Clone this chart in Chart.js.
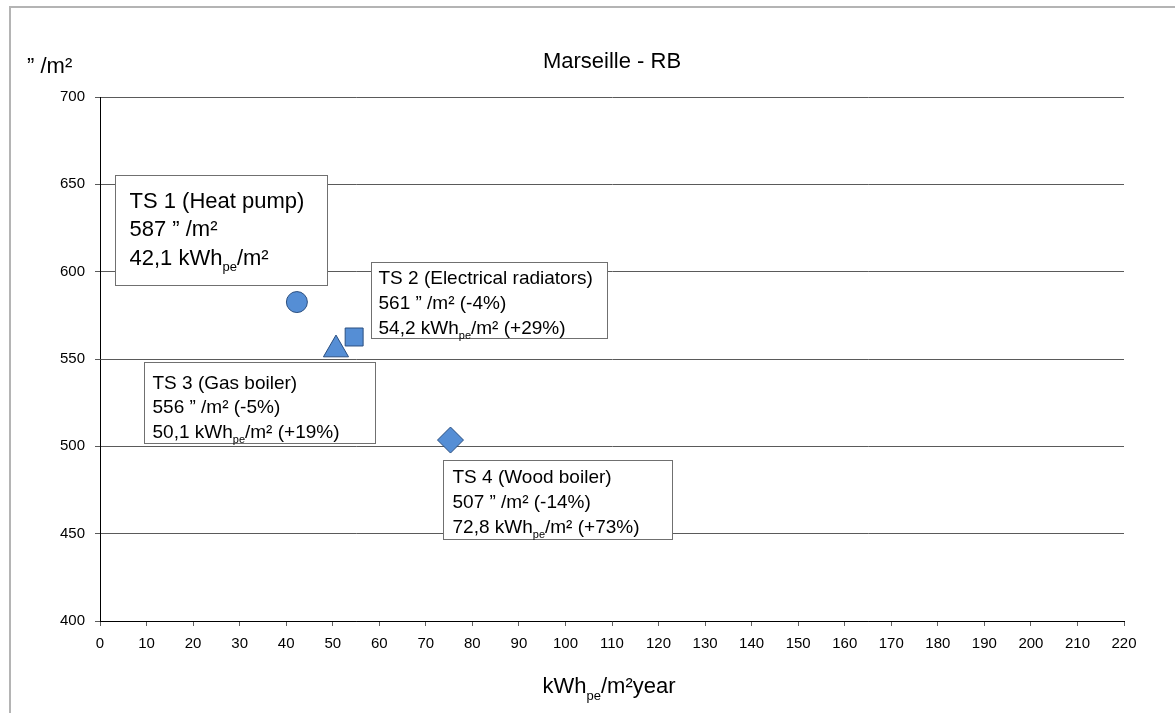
<!DOCTYPE html>
<html>
<head>
<meta charset="utf-8">
<script src="https://cdn.jsdelivr.net/npm/chart.js"></script>
<style>
  body { margin: 0; background: #fff; }
  #wrap { width: 1175px; height: 713px; }
</style>
</head>
<body>
<div id="wrap"><canvas id="myChart" width="1175" height="713"></canvas></div>
<script>
// values
const systemNames = ["TS 1 (Heat pump)", "TS 2 (Electrical radiators)", "TS 3 (Gas boiler)", "TS 4 (Wood boiler)"];
const energyValues = [42.3, 54.6, 50.7, 75.3];
const costValues = [582.6, 562.6, 555.4, 503.6];
const costLabels = ["587", "561", "556", "507"];
const costChange = ["", "-4%", "-5%", "-14%"];
const energyLabels = ["42,1", "54,2", "50,1", "72,8"];
const energyChange = ["", "+29%", "+19%", "+73%"];
const pointShapes = ["circle", "rect", "triangle", "rectRot"];
const pointSizes = [10.5, 12.7, 14.5, 13];

const xMin = 0, xMax = 220, xStep = 10;
const yMin = 400, yMax = 700, yStep = 50;

const chartTitle = "Marseille - RB";
const FONT = "'Liberation Sans', Arial, sans-serif";

// where the label boxes sit (left/top in data units, size in px)
const boxes = [
    {x: 3.2, y: 655.3, w: 212, h: 110, size: 22, pad: 14, first: 32, lead: 28.5},
    {x: 58.2, y: 605.5, w: 236, h: 76, size: 19, pad: 7, first: 21, lead: 25},
    {x: 9.5, y: 548.3, w: 231, h: 81, size: 19, pad: 8, first: 26, lead: 24.5},
    {x: 73.7, y: 492.2, w: 229, h: 79, size: 19, pad: 9, first: 22, lead: 25}
];

function drawParts(ctx, parts, x, y, size) {
    for (let i = 0; i < parts.length; i++) {
        let t = parts[i][0];
        if (parts[i][1] == "sub") {
            let s = Math.round(size * 0.6);
            ctx.font = s + "px " + FONT;
            ctx.fillText(t, x, y + size * 0.3);
        } else {
            ctx.font = size + "px " + FONT;
            ctx.fillText(t, x, y);
        }
        x += ctx.measureText(t).width;
    }
    return x;
}

function partsWidth(ctx, parts, size) {
    let w = 0;
    for (let i = 0; i < parts.length; i++) {
        let s = parts[i][1] == "sub" ? Math.round(size * 0.6) : size;
        ctx.font = s + "px " + FONT;
        w += ctx.measureText(parts[i][0]).width;
    }
    return w;
}

const extras = {
    id: "extras",
    beforeDraw(chart) {
        const ctx = chart.ctx;
        ctx.save();
        ctx.fillStyle = "#fff";
        ctx.fillRect(0, 0, chart.width, chart.height);
        ctx.restore();
    },
    afterDatasetsDraw(chart) {
        const ctx = chart.ctx;
        const xs = chart.scales.x;
        const ys = chart.scales.y;
        ctx.save();
        ctx.textBaseline = "alphabetic";
        ctx.textAlign = "left";

        for (let i = 0; i < boxes.length; i++) {
            let b = boxes[i];
            let left = Math.round(xs.getPixelForValue(b.x)) + 0.5;
            let top = Math.round(ys.getPixelForValue(b.y)) + 0.5;
            ctx.fillStyle = "#fff";
            ctx.fillRect(left, top, b.w, b.h);
            ctx.strokeStyle = "#707070";
            ctx.lineWidth = 1;
            ctx.strokeRect(left, top, b.w, b.h);

            let line2 = costLabels[i] + " \u201D /m\u00B2";
            if (costChange[i]) line2 += " (" + costChange[i] + ")";
            let tail = "/m\u00B2";
            if (energyChange[i]) tail += " (" + energyChange[i] + ")";

            let lines = [
                [[systemNames[i]]],
                [[line2]],
                [[energyLabels[i] + " kWh"], ["pe", "sub"], [tail]]
            ];
            ctx.fillStyle = "#000";
            for (let j = 0; j < lines.length; j++) {
                drawParts(ctx, lines[j], left + b.pad, top + b.first + j * b.lead, b.size);
            }
        }

        // title and axis titles
        ctx.fillStyle = "#000";
        ctx.font = "22px " + FONT;
        ctx.textAlign = "center";
        ctx.fillText(chartTitle, 612, 68);
        ctx.textAlign = "left";
        ctx.fillText("\u201D /m\u00B2", 27, 73);

        let xTitle = [["kWh"], ["pe", "sub"], ["/m\u00B2year"]];
        let w = partsWidth(ctx, xTitle, 22);
        drawParts(ctx, xTitle, 609 - w / 2, 693, 22);

        // outer frame
        ctx.fillStyle = "#b4b4b4";
        ctx.fillRect(9, 6, chart.width - 9, 2);
        ctx.fillRect(9, 6, 2, chart.height - 6);
        ctx.restore();
    }
};

const ctx = document.getElementById("myChart");

myChart = new Chart(ctx, {
    type: "scatter",
    data: {
        datasets: [{
            data: energyValues.map((v, i) => ({x: v, y: costValues[i]})),
            pointStyle: pointShapes,
            pointRadius: pointSizes,
            pointHoverRadius: pointSizes,
            backgroundColor: "#558ed5",
            borderColor: "#2b4f80",
            borderWidth: 1
        }]
    },
    options: {
        responsive: false,
        animation: false,
        layout: {
            padding: {left: 40, right: 51, top: 97, bottom: 52}
        },
        plugins: {
            legend: {display: false},
            tooltip: {enabled: false},
            title: {display: false}
        },
        scales: {
            x: {
                type: "linear",
                min: xMin,
                max: xMax,
                afterFit: (scale) => { scale.height = 40; },
                ticks: {
                    stepSize: xStep,
                    color: "#000",
                    padding: 9,
                    maxRotation: 0,
                    font: {family: FONT, size: 15}
                },
                grid: {
                    drawOnChartArea: false,
                    tickLength: 5,
                    tickColor: "#606060"
                },
                border: {color: "#000", width: 1}
            },
            y: {
                min: yMin,
                max: yMax,
                afterFit: (scale) => { scale.width = 60; },
                ticks: {
                    stepSize: yStep,
                    color: "#000",
                    padding: 10,
                    font: {family: FONT, size: 15}
                },
                grid: {
                    color: "#5a5a5a",
                    tickLength: 5,
                    tickColor: "#5a5a5a"
                },
                border: {color: "#000", width: 1}
            }
        }
    },
    plugins: [extras]
});
</script>
</body>
</html>
